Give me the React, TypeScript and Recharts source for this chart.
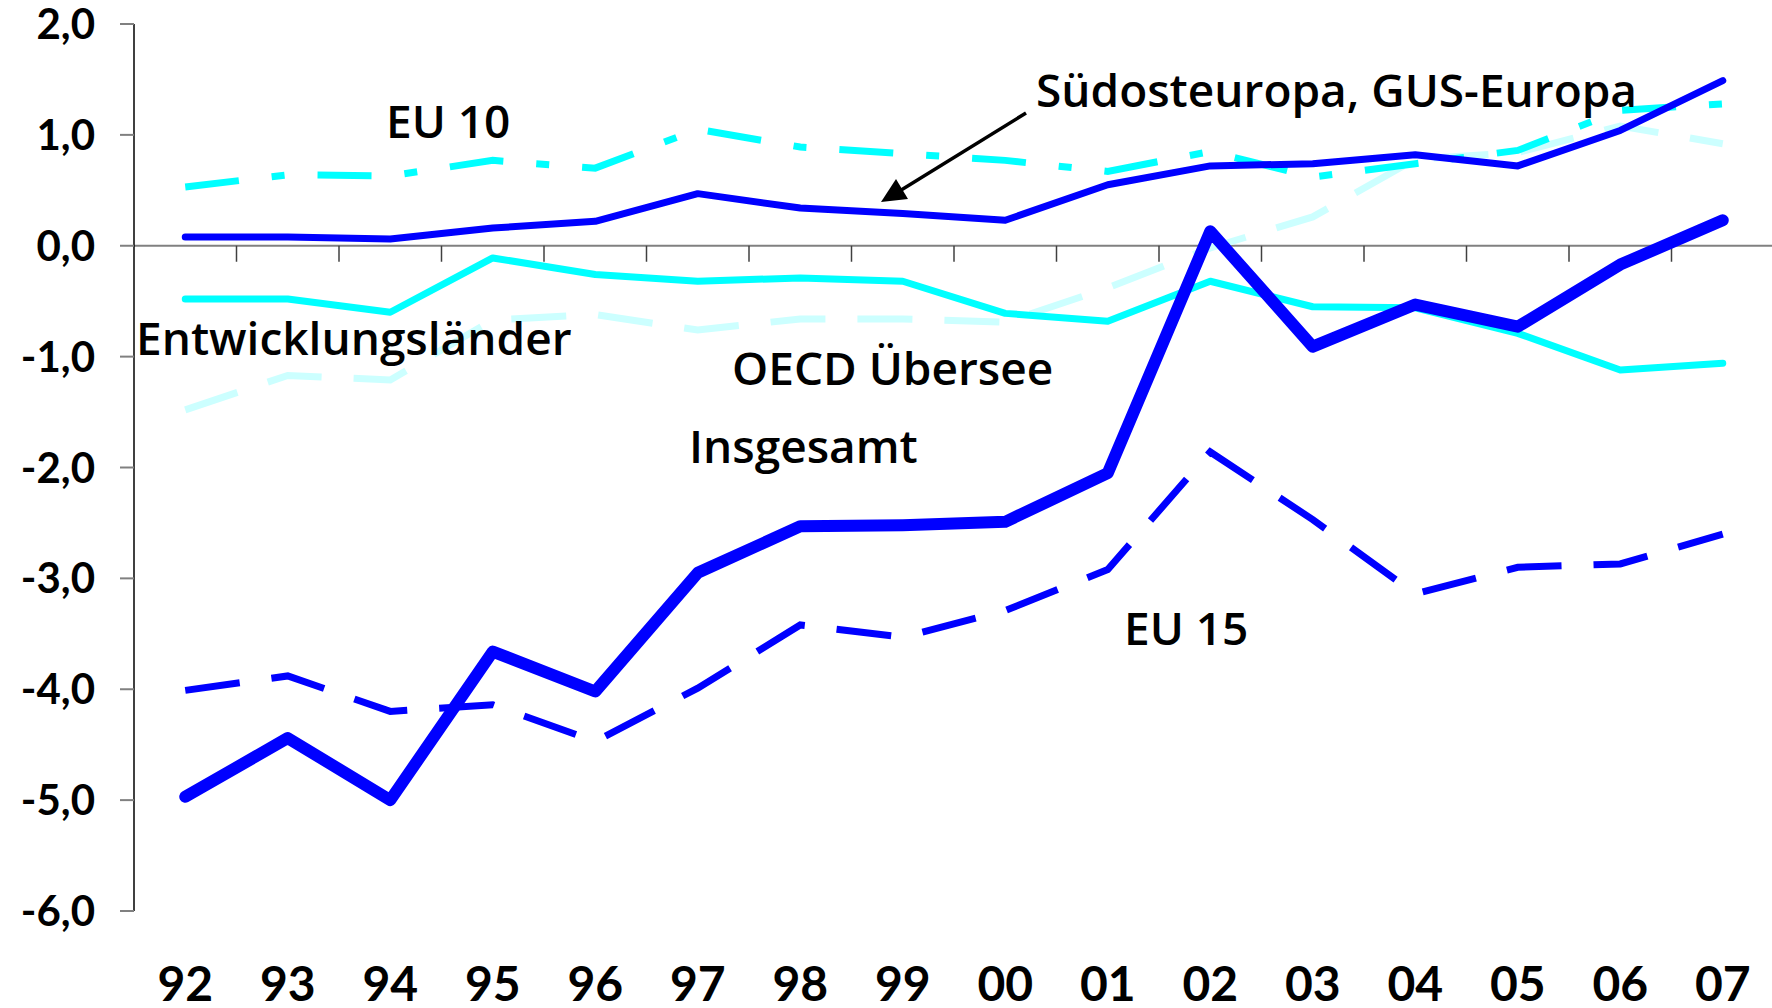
import React from 'react';
import { LineChart, Line, XAxis, YAxis, ReferenceLine } from 'recharts';

const years = ['92', '93', '94', '95', '96', '97', '98', '99', '00', '01', '02', '03', '04', '05', '06', '07'];
const insgesamt = [-4.97, -4.44, -5.0, -3.66, -4.02, -2.95, -2.53, -2.52, -2.49, -2.05, 0.13, -0.91, -0.53, -0.73, -0.17, 0.23];
const eu15 = [-4.01, -3.88, -4.2, -4.14, -4.47, -3.99, -3.42, -3.53, -3.29, -2.92, -1.86, -2.47, -3.14, -2.9, -2.87, -2.6];
const eu10 = [0.53, 0.64, 0.63, 0.77, 0.7, 1.05, 0.89, 0.83, 0.77, 0.67, 0.85, 0.62, 0.74, 0.86, 1.22, 1.28];
const suedost = [0.08, 0.08, 0.06, 0.16, 0.22, 0.47, 0.34, 0.29, 0.23, 0.55, 0.72, 0.74, 0.82, 0.72, 1.04, 1.49];
const oecd = [-0.48, -0.48, -0.6, -0.11, -0.26, -0.32, -0.29, -0.32, -0.61, -0.68, -0.32, -0.55, -0.56, -0.79, -1.12, -1.06];
const entwicklung = [-1.48, -1.17, -1.21, -0.67, -0.62, -0.76, -0.66, -0.66, -0.69, -0.38, -0.02, 0.26, 0.78, 0.84, 1.08, 0.92];
const yTicks = [-6, -5, -4, -3, -2, -1, 0, 1, 2];

const data = years.map((year, i) => ({
  i,
  year,
  insgesamt: insgesamt[i],
  eu15: eu15[i],
  eu10: eu10[i],
  suedost: suedost[i],
  oecd: oecd[i],
  entwicklung: entwicklung[i],
}));

const FONT = 'Lato, "Open Sans", sans-serif';
const LABEL_FONT = '"Open Sans", Lato, sans-serif';

const fmt = (v: number) => v.toFixed(1).replace('.', ',');

function YTick(props: any) {
  const { x, y, payload } = props;
  return (
    <text x={x} y={y + 15} textAnchor="end" fontFamily={FONT} fontWeight={700} fontSize={42} fill="#000">
      {fmt(payload.value)}
    </text>
  );
}

function XTick(props: any) {
  const { x, y, payload } = props;
  return (
    <text x={x} y={y + 90} textAnchor="middle" fontFamily={FONT} fontWeight={700} fontSize={48} fill="#000">
      {years[payload.value]}
    </text>
  );
}

// zero line with the small tick marks between the years
function ZeroAxis(props: any) {
  const { x1, y1, x2 } = props;
  const step = (x2 - x1) / years.length;
  return (
    <g>
      <line x1={x1} y1={y1} x2={x2} y2={y1} stroke="#808080" strokeWidth={2} />
      {years.slice(1).map((_, k) => (
        <line key={k} x1={x1 + step * (k + 1)} y1={y1} x2={x1 + step * (k + 1)} y2={y1 + 16} stroke="#404040" strokeWidth={1.5} />
      ))}
    </g>
  );
}

const labelStyle = { fontFamily: LABEL_FONT, fontWeight: 600, fontSize: 46, fill: '#000' };

export default function App() {
  return (
    <div style={{ position: 'relative', width: 1772, height: 1008, overflow: 'hidden', background: '#fff' }}>
      <style>{'body{margin:0}'}</style>
      <LineChart width={1774} height={1008} data={data} margin={{ top: 24, right: 0, left: 0, bottom: 0 }}>
        <XAxis
          dataKey="i"
          type="number"
          domain={[-0.5, 15.5]}
          ticks={years.map((_, i) => i)}
          interval={0}
          axisLine={false}
          tickLine={false}
          tickSize={0}
          tickMargin={0}
          height={97}
          tick={<XTick />}
        />
        <YAxis
          domain={[-6, 2]}
          ticks={yTicks}
          interval={0}
          width={134}
          axisLine={{ stroke: '#000', strokeWidth: 1.5 }}
          tickLine={{ stroke: '#808080', strokeWidth: 2 }}
          tickSize={14}
          tickMargin={25}
          tick={<YTick />}
        />
        <ReferenceLine y={0} shape={(p: any) => <ZeroAxis {...p} />} />
        <Line type="linear" dataKey="entwicklung" stroke="#CCFFFF" strokeWidth={7} strokeDasharray="55 32" dot={false} activeDot={false} isAnimationActive={false} />
        <Line type="linear" dataKey="eu10" stroke="#00FFFF" strokeWidth={7} strokeDasharray="54 33 13 33" dot={false} activeDot={false} isAnimationActive={false} />
        <Line type="linear" dataKey="oecd" stroke="#00FFFF" strokeWidth={7} strokeLinecap="round" strokeLinejoin="round" dot={false} activeDot={false} isAnimationActive={false} />
        <Line type="linear" dataKey="eu15" stroke="#0000FF" strokeWidth={7} strokeDasharray="55 32" dot={false} activeDot={false} isAnimationActive={false} />
        <Line type="linear" dataKey="suedost" stroke="#0000FF" strokeWidth={7} strokeLinecap="round" strokeLinejoin="round" dot={false} activeDot={false} isAnimationActive={false} />
        <Line type="linear" dataKey="insgesamt" stroke="#0000FF" strokeWidth={12} strokeLinecap="round" strokeLinejoin="round" dot={false} activeDot={false} isAnimationActive={false} />
      </LineChart>
      <svg width={1772} height={1008} style={{ position: 'absolute', left: 0, top: 0, pointerEvents: 'none' }}>
        <text x={386} y={138} {...labelStyle}>EU 10</text>
        <text x={1036} y={107} {...labelStyle}>Südosteuropa, GUS-Europa</text>
        <text x={136} y={355} {...labelStyle}>Entwicklungsländer</text>
        <text x={732} y={385} {...labelStyle}>OECD Übersee</text>
        <text x={689} y={463} {...labelStyle}>Insgesamt</text>
        <text x={1124} y={645} {...labelStyle}>EU 15</text>
        <line x1={1026} y1={113} x2={898} y2={192} stroke="#000" strokeWidth={3.5} />
        <polygon points="881,202 896,179 908,199" fill="#000" />
      </svg>
    </div>
  );
}
